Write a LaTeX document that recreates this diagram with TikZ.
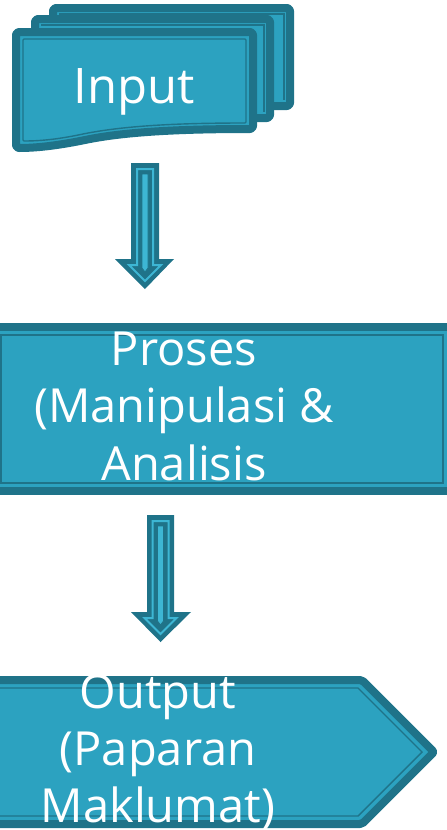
\documentclass[tikz,border=0pt]{standalone}
\usepackage{fontspec}
\setmainfont{Open Sans}
\definecolor{tdark}{HTML}{1F7389}
\definecolor{tfill}{HTML}{2CA2C0}
\definecolor{tlight}{HTML}{3DB6D4}
\begin{document}
\begin{tikzpicture}[x=1pt,y=-1pt,
  outerb/.style={draw=tdark,line width=8pt,fill=tfill,rounded corners=3pt,line join=round},
  innerb/.style={draw=tdark,line width=1.4pt},
  arrowbody/.style={fill=tdark,draw=none},
  arrowline/.style={draw=tlight,line width=2pt},
  lbl/.style={text=white,anchor=base,inner sep=0pt}]
\useasboundingbox (0,0) rectangle (447,830);
\clip (0,0) rectangle (447,830);
% ---- Input documents (back, middle, front)
\path[outerb] (53,8) -- (290,8) -- (290,106) .. controls (230,106) and (150,110) .. (110,118) .. controls (85,123) and (70,126) .. (53,126) -- cycle;
\draw[innerb] (59,14) -- (284,14) -- (284,100);
\path[outerb] (35,19) -- (270,19) -- (270,118) .. controls (210,118) and (130,122) .. (90,130) .. controls (65,135) and (50,138) .. (35,138) -- cycle;
\draw[innerb] (41,25) -- (264,25) -- (264,112);
\path[outerb] (16,32) -- (253,32) -- (253,129) .. controls (190,129) and (130,131) .. (85,140) .. controls (55,146) and (35,148) .. (16,148) -- cycle;
\draw[innerb,rounded corners=1pt] (23,39) -- (246,39) -- (246,123) .. controls (186,123) and (128,125) .. (83,134) .. controls (55,140) and (37,141) .. (23,141) -- cycle;
\node[lbl] (input) at (134,103) {\fontsize{49}{58}\selectfont Input};
% ---- arrow 1
\coordinate (a1tip) at (145,289);
\path[arrowbody] (131,163) -- (159,163) -- (159,259) -- (174,259) -- (a1tip) -- (115,259) -- (131,259) -- cycle;
\draw[arrowline] (137,169) -- (153,169) -- (153,265) -- (161,265) -- (145,281) -- (129,265) -- (137,265) -- cycle;
\draw[draw=tdark,fill=tlight,line width=0.8pt] (142,174) -- (148,174) -- (148,268) -- (145,272) -- (142,268) -- cycle;
% ---- Proses box
\path[outerb,rounded corners=0pt] (-10,327) rectangle (455,491);
\draw[innerb] (1,335) rectangle (443,483);
\node[lbl] (p1) at (184,365) {\fontsize{47}{57}\selectfont Proses};
\node[lbl] (p2) at (184,422) {\fontsize{47}{57}\selectfont (Manipulasi \&};
\node[lbl] (p3) at (184,480) {\fontsize{47}{57}\selectfont Analisis};
% ---- arrow 2
\coordinate (a2tip) at (160.5,642);
\path[arrowbody] (147,515) -- (174,515) -- (174,612) -- (191,612) -- (a2tip) -- (131,612) -- (147,612) -- cycle;
\draw[arrowline] (152.5,521) -- (168.5,521) -- (168.5,618) -- (176.5,618) -- (160.5,634) -- (144.5,618) -- (152.5,618) -- cycle;
\draw[draw=tdark,fill=tlight,line width=0.8pt] (157.5,526) -- (163.5,526) -- (163.5,621) -- (160.5,625) -- (157.5,621) -- cycle;
% ---- Output pentagon
\path[outerb,rounded corners=2pt] (-10,680) -- (362,680) -- (434,752) -- (362,824) -- (-10,824) -- cycle;
\draw[innerb] (-10,688) -- (358,688) -- (422,752) -- (358,816) -- (-10,816);
\node[lbl] (o1) at (158,708) {\fontsize{47}{57}\selectfont Output};
\node[lbl] (o2) at (158,765) {\fontsize{47}{57}\selectfont (Paparan};
\node[lbl] (o3) at (158,822) {\fontsize{47}{57}\selectfont Maklumat)};
\end{tikzpicture}
\end{document}
